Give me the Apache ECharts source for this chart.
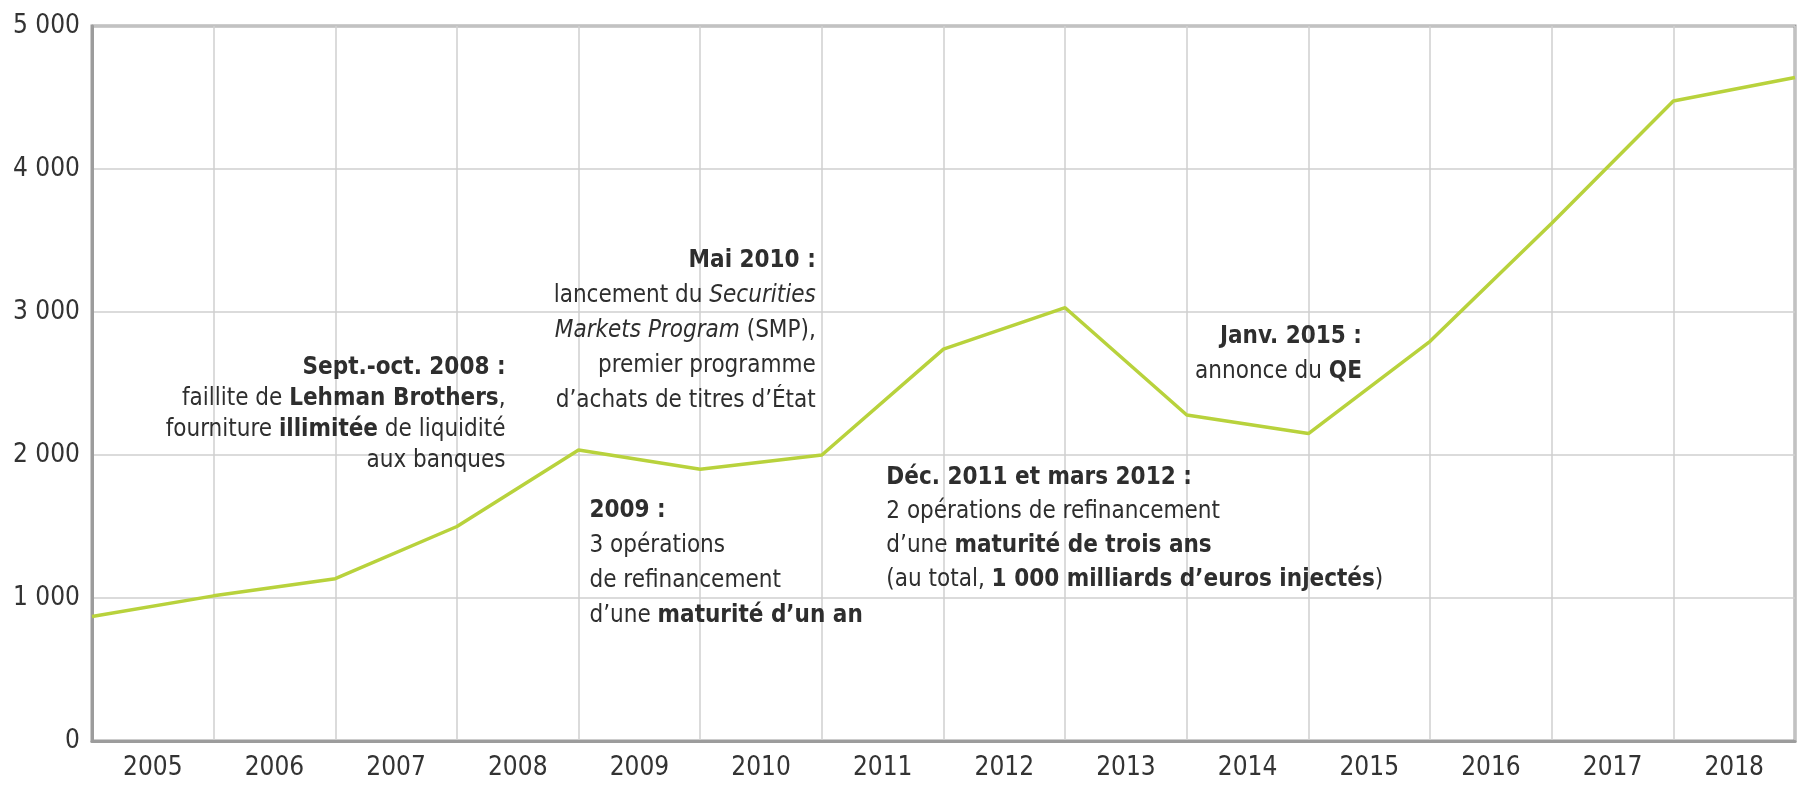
<!DOCTYPE html>
<html><head><meta charset="utf-8">
<script src="https://cdn.jsdelivr.net/npm/echarts@6/dist/echarts.min.js"></script>
<style>html,body{margin:0;padding:0;background:#fff}#c{width:1803px;height:789px}</style>
</head><body><div id="c"></div>
<script>
const years = ['2005','2006','2007','2008','2009','2010','2011','2012','2013','2014','2015','2016','2017','2018'];
// values at each year boundary (start of 2005 ... end of 2018), milliards d'euros
const values = [870, 1015, 1135, 1500, 2035, 1900, 2000, 2740, 3030, 2280, 2150, 2795, 3620, 4475, 4640];
const yTicks = [0, 1000, 2000, 3000, 4000, 5000];

const FONT = '"Liberation Sans Narrow", "DejaVu Sans Condensed", "Roboto Condensed", sans-serif';
const annotations = [
  {x: 3.40, y: 2720, align: 'right', lh: 31,
   text: '{b|Sept.-oct. 2008 :}\nfaillite de {b|Lehman Brothers},\nfourniture {b|illimitée} de liquidité\naux banques'},
  {x: 5.95, y: 3480, align: 'right', lh: 35,
   text: '{b|Mai 2010 :}\nlancement du {i|Securities}\n{i|Markets Program} (SMP),\npremier programme\nd’achats de titres d’État'},
  {x: 4.09, y: 1735, align: 'left', lh: 35,
   text: '{b|2009 :}\n3 opérations\nde refinancement\nd’une {b|maturité d’un an}'},
  {x: 6.53, y: 1961, align: 'left', lh: 34,
   text: '{b|Déc. 2011 et mars 2012 :}\n2 opérations de refinancement\nd’une {b|maturité de trois ans}\n(au total, {b|1 000 milliards d’euros injectés})'},
  {x: 10.44, y: 2950, align: 'right', lh: 35,
   text: '{b|Janv. 2015 :}\nannonce du {b|QE}'}
];

const chart = echarts.init(document.getElementById('c'));
const fmt = v => String(v).replace(/\B(?=(\d{3})+(?!\d))/g, ' ');
chart.setOption({
  animation: false,
  backgroundColor: '#fff',
  grid: {left: 92, right: 8, top: 26, bottom: 48, show: true, borderColor: '#9c9c9c', borderWidth: 3},
  xAxis: [
    {type: 'value', min: 0, max: years.length, interval: 1,
     axisLine: {show: false}, axisTick: {show: false}, axisLabel: {show: false},
     splitLine: {show: true, lineStyle: {color: '#cfcfcf', width: 1.5}}},
    {type: 'category', data: years, boundaryGap: true, position: 'bottom',
     axisLine: {show: true, lineStyle: {color: '#9c9c9c', width: 3}}, axisTick: {show: false},
     axisLabel: {color: '#333', fontSize: 26, fontFamily: FONT, margin: 14}}
  ],
  yAxis: {type: 'value', min: yTicks[0], max: yTicks[yTicks.length-1], interval: 1000,
    axisLine: {show: true, lineStyle: {color: '#9c9c9c', width: 3}}, axisTick: {show: false},
    axisLabel: {color: '#333', fontSize: 26, fontFamily: FONT, margin: 12, formatter: fmt},
    splitLine: {show: true, lineStyle: {color: '#cfcfcf', width: 1.5}}},
  series: [{type: 'line', xAxisIndex: 0, data: values.map((v, i) => [i, v]),
    showSymbol: false, lineStyle: {color: '#b8d23c', width: 3.5}, z: 3}]
});

const FS = 24;
const graphics = annotations.map(a => {
  const p = chart.convertToPixel({xAxisIndex: 0, yAxisIndex: 0}, [a.x, a.y]);
  return {type: 'text', x: p[0], y: p[1], z: 10, style: {
    text: a.text, fill: '#2e2e2e', fontSize: FS, fontFamily: FONT, lineHeight: a.lh,
    align: a.align, verticalAlign: 'top',
    rich: {
      b: {fontWeight: 'bold', fontSize: FS, fontFamily: FONT, fill: '#2e2e2e', lineHeight: a.lh},
      i: {fontStyle: 'italic', fontSize: FS, fontFamily: FONT, fill: '#2e2e2e', lineHeight: a.lh}
    }}};
});
chart.setOption({graphic: graphics});
</script></body></html>
